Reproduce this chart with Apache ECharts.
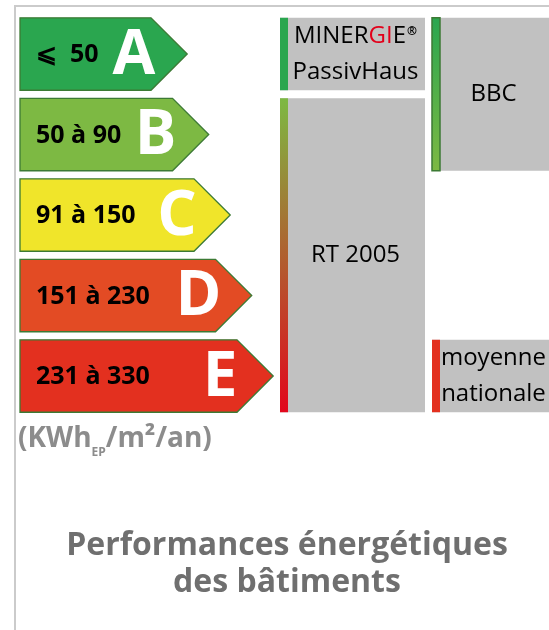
<!DOCTYPE html>
<html>
<head>
<meta charset="utf-8">
<script src="https://cdn.jsdelivr.net/npm/echarts@6/dist/echarts.min.js"></script>
<style>html,body{margin:0;padding:0;background:#fff}#c{width:549px;height:630px}</style>
</head>
<body>
<div id="c"></div>
<script>
// ---- data ----
const classes = ['A', 'B', 'C', 'D', 'E'];
const classRanges = ['⩽  50', '50 à 90', '91 à 150', '151 à 230', '231 à 330'];
const labelNames = ['MINERGIE®\nPassivHaus', 'RT 2005', 'BBC', 'moyenne\nnationale'];
const labelFrom = ['A', 'B', 'A', 'E'];
const labelTo = ['A', 'E', 'B', 'E'];
const labelGroup = ['labels', 'labels', 'repères', 'repères'];
const unitMain = '(KWh';
const unitSub = 'EP';
const unitRest = '/m²/an)';
const titleLines = ['Performances énergétiques', 'des bâtiments'];

// ---- styles / layout ----
const FONT = '"Open Sans", "Noto Sans", sans-serif';
const classColors = ['#2aa64f', '#7db943', '#f0e52a', '#e34b24', '#e3301f'];
const columnLayout = { 'labels': { x: 280, w: 145 }, 'repères': { x: 432, w: 117 } };
const barOutline = { 'BBC': '#3c7a34' };

const chart = echarts.init(document.getElementById('c'), null, { renderer: 'canvas' });

const arrowData = classes.map((c, i) => [0, c]);
const boxData = labelNames.map((n, i) => [0, labelFrom[i], labelTo[i]]);

function renderArrow(params, api) {
  const i = params.dataIndex;
  const c = api.coord([0, i]);
  const band = api.size([0, 1])[1];
  const h = band * 0.9;
  const top = c[1] - h / 2, bottom = c[1] + h / 2;
  const x0 = c[0];
  const body = 131 + i * 21.5;
  const tip = x0 + body + h / 2;
  return {
    type: 'group',
    children: [
      { type: 'polygon', shape: { points: [[x0, top], [x0 + body, top], [tip, c[1]], [x0 + body, bottom], [x0, bottom]] },
        style: { fill: classColors[i], stroke: '#3c7a34', lineWidth: 1.3 } },
      { type: 'text', style: { text: classRanges[i], x: x0 + 16, y: c[1] + 1, verticalAlign: 'middle', align: 'left',
        fontFamily: FONT, fontWeight: 'bold', fontSize: 25, fill: '#000' } },
      { type: 'text', style: { text: classes[i], x: x0 + body - 17, y: c[1] + 2, verticalAlign: 'middle', align: 'center',
        fontFamily: FONT, fontWeight: 'bold', fontSize: 62, fill: '#fff' } }
    ]
  };
}

function renderBox(params, api) {
  const i = params.dataIndex;
  const fi = classes.indexOf(labelFrom[i]);
  const ti = classes.indexOf(labelTo[i]);
  const band = api.size([0, 1])[1];
  const h = band * 0.9;
  const yTop = api.coord([0, fi])[1] - h / 2;
  const yBot = api.coord([0, ti])[1] + h / 2;
  const col = columnLayout[labelGroup[i]];
  const name = labelNames[i];
  const txt = name.replace('MINERGIE®', 'MINER{r|GI}E{s|®}');
  const barFill = fi === ti ? classColors[fi] : new echarts.graphic.LinearGradient(0, 0, 0, 1, [
    { offset: 0, color: classColors[fi] }, { offset: 1, color: ti === 4 ? '#e2071c' : classColors[ti] }
  ]);
  const outline = barOutline[name];
  return {
    type: 'group',
    children: [
      { type: 'rect', shape: { x: col.x, y: yTop, width: col.w, height: yBot - yTop }, style: { fill: '#c1c1c1' } },
      { type: 'rect', shape: { x: col.x, y: yTop, width: 8, height: yBot - yTop },
        style: { fill: barFill, stroke: outline || null, lineWidth: outline ? 1.5 : 0 } },
      { type: 'text', style: {
          text: txt, x: col.x + col.w / 2 + 3, y: (yTop + yBot) / 2, align: 'center', verticalAlign: 'middle',
          fontFamily: FONT, fontSize: 24, lineHeight: 36, fill: '#000',
          rich: {
            r: { fontFamily: FONT, fontSize: 24, lineHeight: 36, fill: '#e2001a' },
            s: { fontFamily: FONT, fontSize: 12, fontWeight: 'bold', lineHeight: 14, padding: [0, 0, 8, 1], verticalAlign: 'middle', fill: '#000' }
          }
        } }
    ]
  };
}

chart.setOption({
  animation: false,
  backgroundColor: '#fff',
  title: {
    text: titleLines.join('\n'), left: 282, top: 522, textAlign: 'center',
    textStyle: { fontFamily: FONT, fontWeight: 'bold', fontSize: 32, lineHeight: 37, color: '#6f6f6f' }
  },
  grid: { left: 20, top: 13.75, width: 529, height: 402.5 },
  xAxis: { type: 'value', min: 0, max: 100, show: false },
  yAxis: { type: 'category', data: classes, inverse: true, show: false },
  graphic: [
    { type: 'line', shape: { x1: 14, y1: 6, x2: 549, y2: 6 }, style: { stroke: '#cbcbcb', lineWidth: 2 } },
    { type: 'line', shape: { x1: 15, y1: 5, x2: 15, y2: 640 }, style: { stroke: '#cbcbcb', lineWidth: 2 } },
    { type: 'text', left: 18, top: 419, style: {
        text: unitMain + '{sub|' + unitSub + '}' + unitRest,
        fontFamily: FONT, fontWeight: 'bold', fontSize: 28, lineHeight: 40, fill: '#8c8c8c',
        rich: { sub: { fontFamily: FONT, fontWeight: 'bold', fontSize: 12, lineHeight: 12, verticalAlign: 'bottom', fill: '#8c8c8c' } }
      } }
  ],
  series: [
    { type: 'custom', renderItem: renderArrow, data: arrowData, clip: false },
    { type: 'custom', renderItem: renderBox, data: boxData, clip: false }
  ]
});
</script>
</body>
</html>
